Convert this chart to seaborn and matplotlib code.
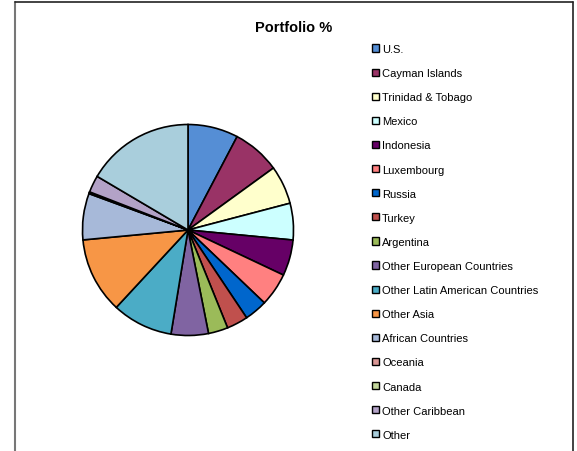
import matplotlib
matplotlib.use("Agg")
import matplotlib.pyplot as plt
from matplotlib.patches import Patch
import seaborn as sns

categories = ["U.S.", "Cayman Islands", "Trinidad & Tobago", "Mexico", "Indonesia",
              "Luxembourg", "Russia", "Turkey", "Argentina", "Other European Countries",
              "Other Latin American Countries", "Other Asia", "African Countries",
              "Oceania", "Canada", "Other Caribbean", "Other"]
portfolio_pct = [7.7, 7.3, 5.9, 5.6, 5.5, 5.1, 3.5, 3.25, 3.0, 5.7,
                 9.3, 11.6, 7.1, 0.17, 0.11, 2.6, 16.5]
colors = ["#558ED5", "#993366", "#FFFFCC", "#CCFFFF", "#660066", "#FF8080",
          "#0066CC", "#C0504D", "#9BBB59", "#8064A2", "#4BACC6", "#F79646",
          "#A7B9D9", "#D99694", "#C3D69B", "#B3A2C7", "#A9CEDC"]
title = "Portfolio %"

sns.set_style("white")
plt.rcParams['font.family'] = ['Liberation Sans', 'DejaVu Sans']
plt.rcParams['text.color'] = 'black'

W, H = 577, 452
fig = plt.figure(figsize=(W / 100, H / 100), dpi=100)
fig.patch.set_facecolor("white")

# frame of the chart area
fig.add_artist(plt.Line2D([15 / W, 15 / W], [0, 1 - 3 / H], color="#777777", lw=1.5,
                          transform=fig.transFigure))
fig.add_artist(plt.Line2D([15 / W, 573 / W], [1 - 3 / H, 1 - 3 / H], color="#222222", lw=1.2,
                          transform=fig.transFigure))
fig.add_artist(plt.Line2D([573 / W, 573 / W], [0, 1 - 3 / H], color="#222222", lw=1.2,
                          transform=fig.transFigure))

cx, cy, r = 188, 231, 105.5
ax = fig.add_axes([(cx - r) / W, (H - cy - r) / H, 2 * r / W, 2 * r / H])
wedges, _ = ax.pie(portfolio_pct, colors=colors, startangle=90, counterclock=False,
                   wedgeprops=dict(edgecolor="black", linewidth=1.2))
ax.set_xlim(-1.0, 1.0)
ax.set_ylim(-1.0, 1.0)
ax.axis("off")

fig.text(294 / W, 1 - 28 / H, title, ha="center", va="center", fontsize=10.5,
         fontweight="bold", color="black")

handles = [Patch(facecolor=c, edgecolor="black", linewidth=1.0) for c in colors]
leg = fig.legend(handles, categories, loc="upper left", bbox_to_anchor=(372 / W, 1 - 45 / H),
                 frameon=False, fontsize=8, handlelength=0.62, handleheight=0.62,
                 handletextpad=0.3, labelspacing=1.27, borderpad=0, borderaxespad=0)
for t in leg.get_texts():
    t.set_color("black")

fig.savefig("out.png", dpi=100, facecolor="white")
